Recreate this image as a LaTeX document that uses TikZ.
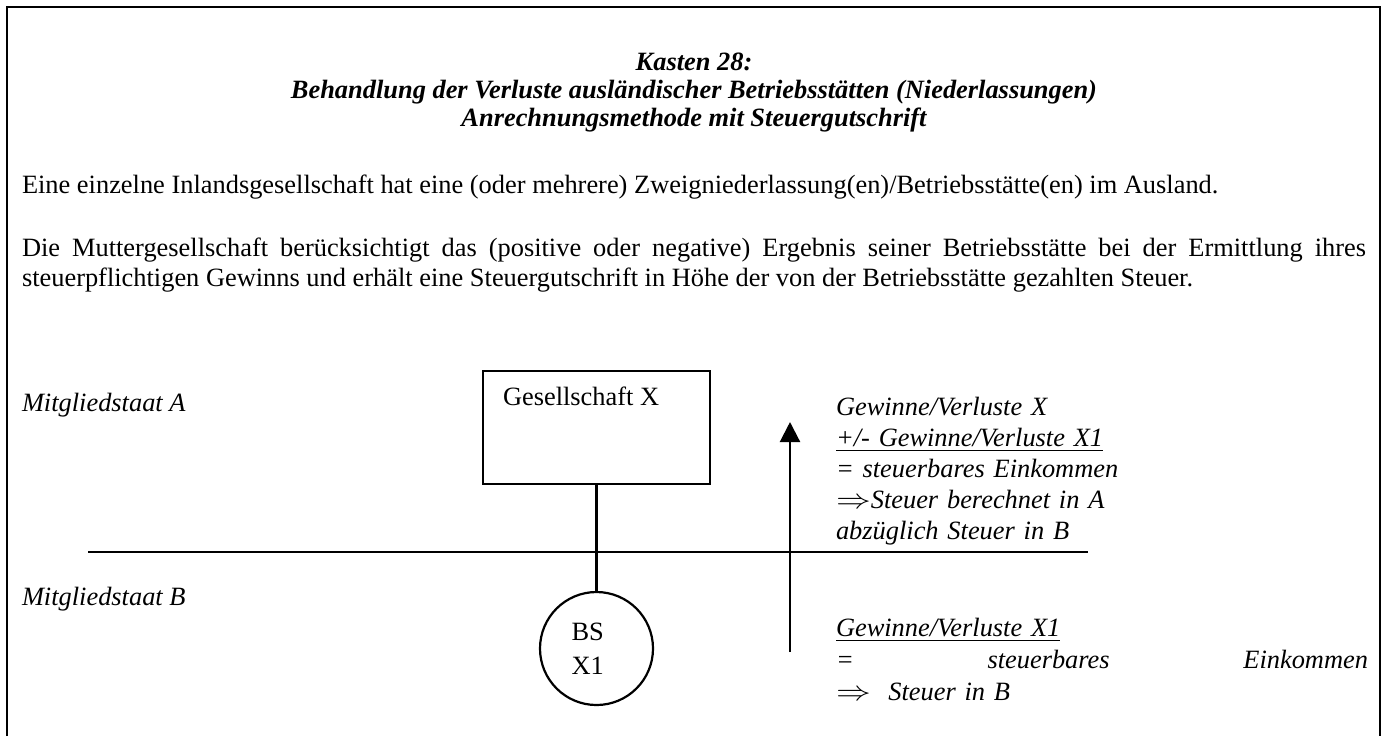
\documentclass[tikz,border=0pt]{standalone}
\usepackage{fontspec}
\setmainfont{Liberation Serif}
\usepackage{graphicx}
\usepackage{tikz}
\usetikzlibrary{
  positioning,
  arrows.meta
}
\newcommand{\undr}[1]{\leavevmode\setbox0\hbox{#1}\rlap{\rule[-2.5pt]{\wd0}{0.6pt}}\box0}
\newcommand{\thenarrow}{\scalebox{1.45}[1.15]{$\Rightarrow$}}
\tikzset{%
  every node/.style={inner sep=0pt, outer sep=0pt}, % text sits right on the coordinates
  rule/.style={line width=1.1pt}, % all strokes of the scan are this heavy
  plain/.style={anchor=base west, font=\fontsize{13.2}{15}\selectfont},
  slanted/.style={anchor=base west, font=\fontsize{13.2}{15.5}\selectfont\itshape}
}

\begin{document}
\begin{tikzpicture}[x=0.5pt, y=-0.5pt]
  \tikzset{
    firmbox/.style={draw, rule, minimum width=113.5pt, minimum height=56.5pt},
    branch/.style={draw, rule, circle, minimum size=56.5pt, text width=25pt,
      align=left, font=\fontsize{13.2}{17}\selectfont}
  }
  \useasboundingbox (0,0) rectangle (1386,736);
  % frame, cut off at the bottom
  \draw[rule] (7,736) -- (7,7) -- (1380,7) -- (1380,736);
  % heading
  \foreach \txt/\y [count=\i] in {Kasten 28:/70,
      Behandlung der Verluste ausländischer Betriebsstätten (Niederlassungen)/98,
      Anrechnungsmethode mit Steuergutschrift/126}
    \node[plain, anchor=base, font=\fontsize{13.2}{15}\selectfont\bfseries\itshape]
      (head\i) at (694,\y) {\txt};
  \node[plain] (introA) at (22,193) {Eine einzelne Inlandsgesellschaft hat eine (oder mehrere) Zweigniederlassung(en)/Betriebsstätte(en) im Ausland.};
  \node[plain, text width=672pt, align=justify] (introB) at (22,256)
    {Die Muttergesellschaft berücksichtigt das (positive oder negative) Ergebnis seiner Betriebsstätte bei der Ermittlung ihres\linebreak
     steuerpflichtigen Gewinns und erhält eine Steuergutschrift in Höhe der von der Betriebsstätte gezahlten Steuer.};
  % the two states and the border
  \node[slanted] (stateA) at (22,411) {Mitgliedstaat A};
  \node[slanted] (stateB) at (22,605) {Mitgliedstaat B};
  \coordinate (borderW) at (88,552);
  \coordinate (borderE) at (1088,552);
  \draw[rule] (borderW) -- (borderE);
  % company and its branch
  \node[firmbox] (gesX) at (596.5,427.5) {};
  \node[plain] (gesXname) at (503,405) {Gesellschaft X};
  \node[branch, below=54pt of gesX] (bsX1) {BS\\X1};
  \draw[rule] (gesX) -- (bsX1);
  % flow of the result
  \coordinate (flowfoot) at (790,652);
  \coordinate (flowtip) at (790,422);
  \draw[rule, -{Triangle[length=10pt, width=10pt]}] (flowfoot) -- (flowtip);
  \node[slanted, text width=266pt, align=left] (calcA) at (836,415)
    {Gewinne/Verluste X\\
     \undr{+/- Gewinne/Verluste X1}\\
     = steuerbares Einkommen\\
     \thenarrow Steuer berechnet in A\\
     abzüglich Steuer in B};
  \node[slanted, text width=266pt, align=left, font=\fontsize{13.2}{16}\selectfont\itshape]
    (calcB) at (836,636)
    {\undr{Gewinne/Verluste X1}\\
     =\hfill steuerbares\hfill Einkommen\\
     \thenarrow\ \ Steuer in B};
\end{tikzpicture}
\end{document}
